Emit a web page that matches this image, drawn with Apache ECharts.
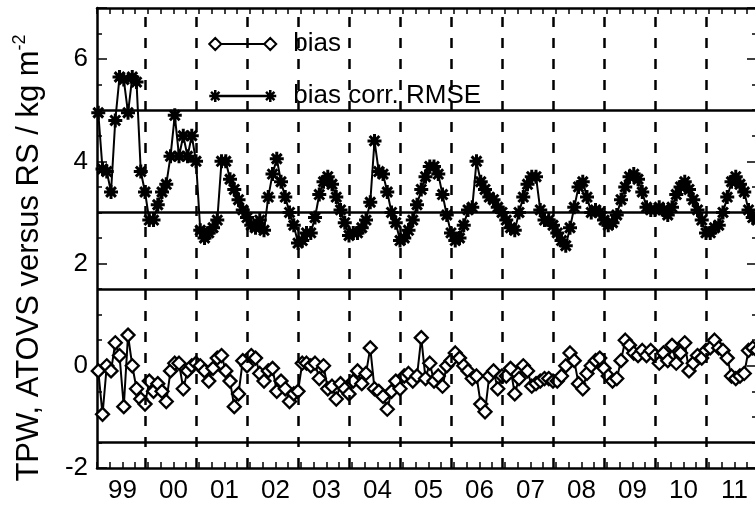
<!DOCTYPE html>
<html>
<head>
<meta charset="utf-8">
<script src="https://cdn.jsdelivr.net/npm/echarts@6/dist/echarts.min.js"></script>
<style>
  html, body { margin: 0; padding: 0; background: #fff; }
  #chart { width: 755px; height: 512px; }
</style>
</head>
<body>
<div id="chart"></div>
<script>
// monthly values, Jan 1999 .. Dec 2011 (x = month index, Jan 1999 = 1)
const rmse = [
  4.95, 3.85, 3.8, 3.4, 4.8, 5.65, 5.6, 4.95, 5.65, 5.55, 3.8, 3.4,
  2.85, 2.85, 3.15, 3.4, 3.55, 4.1, 4.9, 4.1, 4.5, 4.1, 4.5, 4.0,
  2.65, 2.5, 2.6, 2.7, 2.85, 4.0, 4.0, 3.65, 3.45, 3.25, 3.05, 2.9,
  2.75, 2.7, 2.85, 2.65, 3.3, 3.75, 4.05, 3.6, 3.3, 3.0, 2.75, 2.4,
  2.45, 2.6, 2.6, 2.9, 3.35, 3.6, 3.7, 3.55, 3.3, 3.05, 2.8, 2.55,
  2.6, 2.6, 2.7, 2.85, 3.2, 4.4, 3.8, 3.75, 3.4, 3.0, 2.8, 2.45,
  2.5, 2.65, 2.85, 3.15, 3.45, 3.7, 3.9, 3.9, 3.75, 3.35, 2.95, 2.6,
  2.45, 2.5, 2.75, 3.05, 3.1, 4.0, 3.6, 3.45, 3.3, 3.25, 3.1, 3.0,
  2.85, 2.7, 2.65, 3.0, 3.3, 3.55, 3.7, 3.7, 3.05, 2.85, 2.85, 2.75,
  2.6, 2.45, 2.35, 2.7, 3.1, 3.5, 3.6, 3.3, 3.0, 3.05, 3.0, 2.85,
  2.75, 2.8, 2.95, 3.25, 3.5, 3.7, 3.75, 3.65, 3.4, 3.1, 3.05, 3.05,
  3.1, 3.05, 2.95, 3.1, 3.35, 3.5, 3.6, 3.45, 3.25, 3.05, 2.85, 2.6,
  2.6, 2.7, 2.75, 3.0, 3.3, 3.6, 3.7, 3.55, 3.4, 3.05, 2.9, 2.85
]
const bias = [
  -0.1, -0.95, 0.0, -0.1, 0.45, 0.2, -0.8, 0.6, 0.0, -0.45, -0.65, -0.75,
  -0.3, -0.5, -0.35, -0.5, -0.7, -0.1, 0.05, 0.05, -0.45, -0.1, 0.0, 0.05,
  0.0, -0.1, -0.3, -0.05, 0.15, 0.2, -0.1, -0.3, -0.8, -0.55, 0.1, 0.0,
  0.2, 0.15, -0.15, -0.3, -0.1, -0.05, -0.5, -0.3, -0.45, -0.7, -0.55, -0.5,
  0.05, 0.05, 0.0, 0.05, -0.25, 0.0, -0.45, -0.4, -0.65, -0.35, -0.45, -0.55,
  -0.3, -0.1, -0.35, -0.15, 0.35, -0.45, -0.5, -0.6, -0.85, -0.5, -0.3, -0.45,
  -0.2, -0.15, -0.3, -0.2, 0.55, -0.25, 0.05, -0.3, -0.2, -0.4, 0.0, 0.1,
  0.25, 0.15, 0.0, -0.1, -0.25, -0.2, -0.75, -0.9, -0.2, -0.1, -0.45, -0.2,
  -0.2, -0.05, -0.55, -0.25, 0.0, -0.1, -0.4, -0.35, -0.3, -0.25, -0.25, -0.3,
  -0.3, -0.2, 0.0, 0.25, 0.1, -0.35, -0.45, -0.15, 0.0, 0.1, 0.15, -0.05,
  -0.2, -0.3, -0.25, 0.1, 0.5, 0.4, 0.25, 0.2, 0.3, 0.2, 0.3, 0.2,
  0.05, 0.25, 0.1, 0.4, 0.05, 0.25, 0.45, -0.1, 0.05, 0.2, 0.15, 0.3,
  0.35, 0.5, 0.35, 0.3, 0.15, -0.2, -0.25, -0.2, -0.15, 0.3, 0.35, 0.3
]
const yearLabels = ['99', '00', '01', '02', '03', '04', '05', '06', '07', '08', '09', '10', '11']
const yearBreaks = [12, 24, 36, 48, 60, 72, 84, 96, 108, 120, 132, 144]
const refLevels = [5, 3, 1.5, -1.5]

const font = 'Liberation Sans'
const labelMonth = 7
const star = 'path://M6,0L6,12M0,6L12,6M1.8,1.8L10.2,10.2M1.8,10.2L10.2,1.8'
const starIcon = 'path://M6,0L6,12M0,6L12,6M1.8,1.8L10.2,10.2M1.8,10.2L10.2,1.8M12,6L55,6M61,0L61,12M55,6L67,6M56.8,1.8L65.2,10.2M56.8,10.2L65.2,1.8'
const diamondIcon = 'path://M0,6L6,0L12,6L6,12ZM12,6L55,6M55,6L61,0L67,6L61,12Z'

const chart = echarts.init(document.getElementById('chart'))

const xRange = { min: 0.7, max: 156 }

const option = {
  animation: false,
  backgroundColor: '#fff',
  grid: { left: 97, top: 8, width: 660, height: 460, containLabel: false, outerBoundsMode: 'none' },
  legend: {
    orient: 'vertical',
    left: 203,
    top: 24,
    itemWidth: 67,
    itemHeight: 12,
    itemGap: 22,
    textStyle: { fontSize: 26, color: '#000', fontFamily: font, lineHeight: 30, padding: [0, 0, 0, 12] },
    data: [
      { name: 'bias', icon: diamondIcon, itemStyle: { color: '#fff', borderColor: '#000', borderWidth: 2 } },
      { name: 'bias corr. RMSE', icon: starIcon, itemStyle: { color: '#000', borderColor: '#000', borderWidth: 2.5 } }
    ]
  },
  xAxis: [
    {
      type: 'value', position: 'bottom', ...xRange, interval: 3,
      axisLine: { onZero: false, lineStyle: { color: '#000', width: 2.5 } },
      axisTick: { inside: true, length: 6, lineStyle: { color: '#000', width: 1.5 } },
      axisLabel: { show: false },
      splitLine: { show: false }
    },
    {
      type: 'value', position: 'bottom', ...xRange, interval: 1,
      axisLine: { show: false, onZero: false },
      axisTick: { show: false },
      splitLine: { show: false },
      axisLabel: {
        margin: 10, fontSize: 26, color: '#000', fontFamily: font,
        formatter: function (v) {
          const k = (v - labelMonth) / 12
          const r = Math.round(k)
          if (Math.abs(k - r) * 12 > 0.5 || r < 0 || r >= yearLabels.length) return ''
          return yearLabels[r]
        }
      }
    },
    {
      type: 'value', position: 'top', ...xRange, interval: 3,
      axisLine: { onZero: false, lineStyle: { color: '#000', width: 2.5 } },
      axisTick: { inside: true, length: 6, lineStyle: { color: '#000', width: 1.5 } },
      axisLabel: { show: false },
      splitLine: { show: false }
    }
  ],
  yAxis: [
    {
      type: 'value', min: -2, max: 7, interval: 2,
      name: 'TPW, ATOVS versus RS / kg m{sup|-2}',
      nameLocation: 'middle',
      nameGap: 50,
      nameTextStyle: {
        fontSize: 31, color: '#000', fontFamily: font, lineHeight: 36,
        padding: [0, 40, 0, 0],
        rich: { sup: { fontSize: 18, lineHeight: 18, verticalAlign: 'top', color: '#000', fontFamily: font } }
      },
      axisLine: { onZero: false, lineStyle: { color: '#000', width: 2.5 } },
      axisTick: { inside: true, length: 10, lineStyle: { color: '#000', width: 1.5 } },
      minorTick: { show: true, splitNumber: 4, length: 5, lineStyle: { color: '#000', width: 1.5 } },
      axisLabel: { fontSize: 26, color: '#000', fontFamily: font, margin: 9, showMaxLabel: false },
      splitLine: { show: false }
    },
    {
      type: 'value', min: -2, max: 7, interval: 2, position: 'right',
      axisLine: { show: true, onZero: false, lineStyle: { color: '#000', width: 2.5 } },
      axisTick: { inside: true, length: 10, lineStyle: { color: '#000', width: 1.5 } },
      minorTick: { show: true, splitNumber: 4, length: 5, lineStyle: { color: '#000', width: 1.5 } },
      axisLabel: { show: false },
      splitLine: { show: false }
    }
  ],
  series: [
    {
      name: 'bias',
      type: 'line',
      data: bias.map((v, i) => [i + 1, v]),
      symbol: 'diamond',
      symbolSize: 13,
      lineStyle: { color: '#000', width: 2 },
      itemStyle: { color: '#fff', borderColor: '#000', borderWidth: 2.3 },
      markLine: {
        silent: true,
        symbol: ['none', 'none'],
        label: { show: false },
        data: refLevels.map(v => ({ yAxis: v, lineStyle: { color: '#000', width: 2.5, type: 'solid' } }))
          .concat(yearBreaks.map(m => ({ xAxis: m, lineStyle: { color: '#000', width: 2.5, type: [10, 11] } })))
      }
    },
    {
      name: 'bias corr. RMSE',
      type: 'line',
      data: rmse.map((v, i) => [i + 1, v]),
      symbol: star,
      symbolSize: 14,
      lineStyle: { color: '#000', width: 2 },
      itemStyle: { color: '#000', borderColor: '#000', borderWidth: 3 }
    }
  ]
}

chart.setOption(option)
</script>
</body>
</html>
